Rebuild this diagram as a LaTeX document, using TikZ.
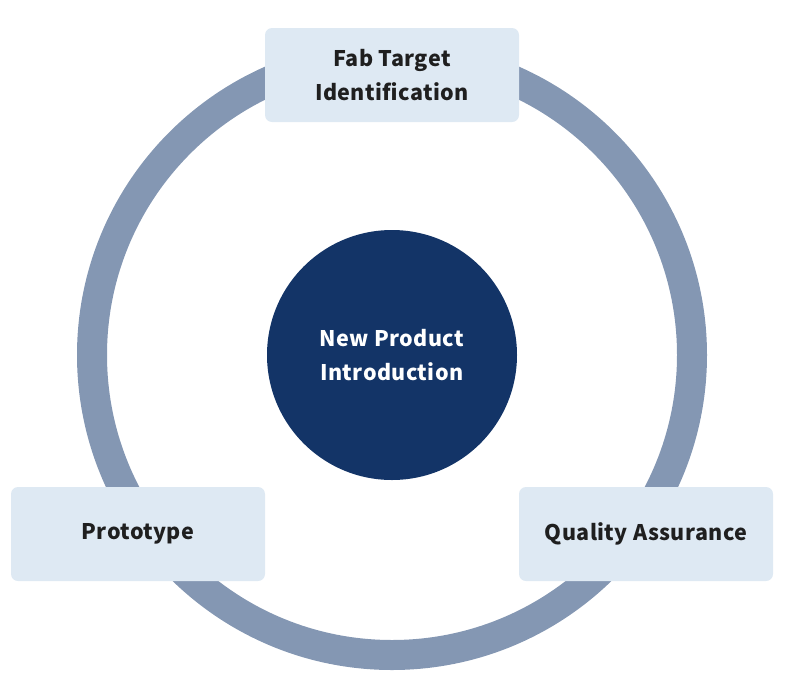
\documentclass[tikz,border=0pt]{standalone}
\usepackage{fontspec}
\setmainfont{Noto Sans CJK KR}[LetterSpace=2]
\definecolor{ringc}{HTML}{8497B3}
\definecolor{navy}{HTML}{133467}
\definecolor{boxc}{HTML}{DEE9F3}
\definecolor{txt}{HTML}{1F1F1F}
\tikzset{
  lbl/.style={align=center, font=\bfseries\fontsize{21.5}{34}\selectfont},
  stagebox/.style={lbl, fill=boxc, rounded corners=7pt, minimum width=254pt, minimum height=94pt, inner sep=0pt, text=txt},
}
\begin{document}
\begin{tikzpicture}[x=1pt,y=-1pt]
\useasboundingbox (0,0) rectangle (785,694);
\coordinate (c) at (392,355);
\draw[ringc, line width=30pt] (c) circle[radius=300];
\node[lbl, circle, fill=navy, minimum size=250pt, inner sep=0pt, text=white] (npi) at (c) {New Product\\Introduction};
\node[stagebox] (fab) at (392,75) {Fab Target\\Identification};
\node[stagebox] (proto) at (138,534) {Prototype};
\node[stagebox] (qa) at (646,534) {Quality Assurance};
\end{tikzpicture}
\end{document}
